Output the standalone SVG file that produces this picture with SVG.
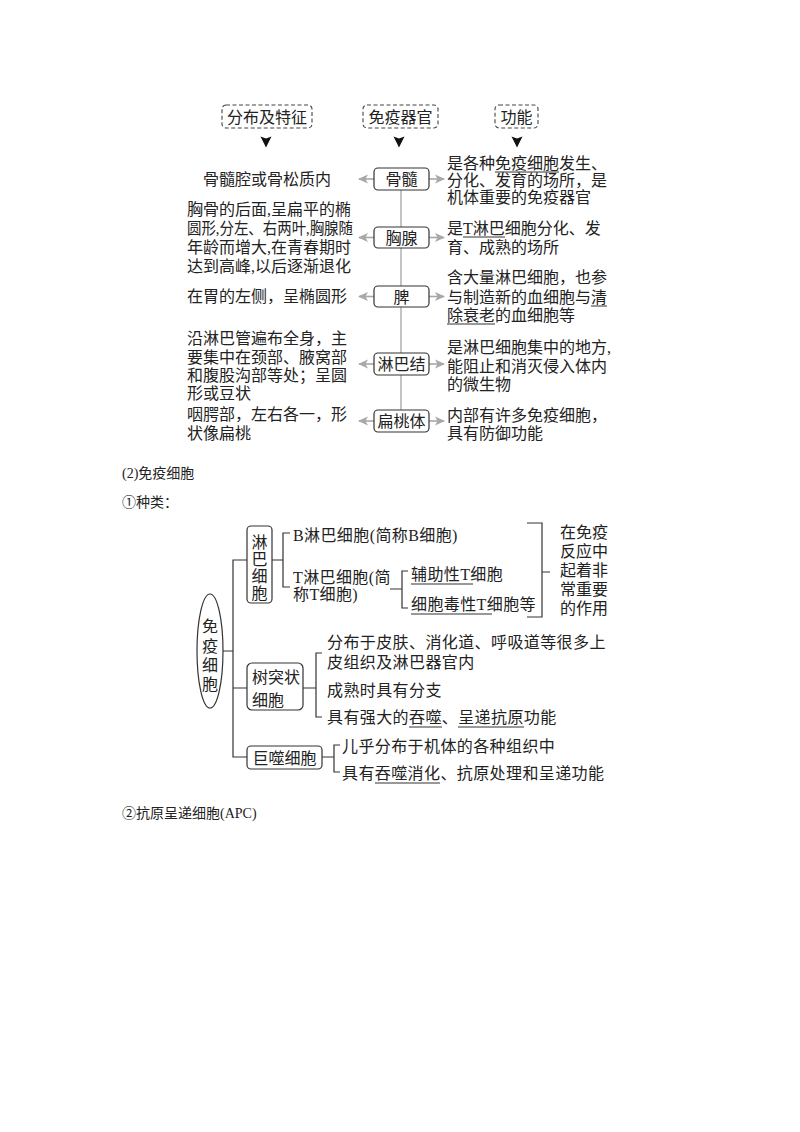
<svg xmlns="http://www.w3.org/2000/svg" width="800" height="1132" viewBox="0 0 800 1132">
<defs>
<marker id="ga" viewBox="0 0 10 10" refX="9" refY="5" markerWidth="10" markerHeight="10" markerUnits="userSpaceOnUse" orient="auto">
<path d="M10,5 L0,0.5 L2.5,5 L0,9.5 Z" fill="#a8a8a8"/>
</marker>
<style>
text{font-family:"Liberation Serif","Noto Sans CJK SC",serif;font-size:16px;fill:#222;}
.c{text-anchor:middle;}
.s{font-size:14px;}
.b{letter-spacing:0.4px;}
.box{fill:#fff;stroke:#333;stroke-width:1.2;}
.dash{fill:#fff;stroke:#444;stroke-width:1.1;stroke-dasharray:4 2.5;}
.ga{stroke:#a8a8a8;stroke-width:1.6;fill:none;marker-end:url(#ga);}
.vl{stroke:#c4c4c4;stroke-width:2;fill:none;}
.ln{stroke:#333;stroke-width:1.2;fill:none;}
.ul{stroke:#333;stroke-width:1;fill:none;}
.tri{fill:#111;}
</style>
</defs>
<rect width="800" height="1132" fill="#fff"/>

<g id="connectors">
<path class="tri" d="M260.5,136.5 L266,147.5 L271.5,136.5 L266,138.5 Z"/>
<path class="tri" d="M393.5,136.5 L399,147.5 L404.5,136.5 L399,138.5 Z"/>
<path class="tri" d="M511.5,136.5 L517,147.5 L522.5,136.5 L517,138.5 Z"/>
<path class="vl" d="M401,190 V227 M401,248 V286 M401,307 V353 M401,375 V410"/>
<path class="ga" d="M374,179 H359"/>
<path class="ga" d="M429,179 H444"/>
<path class="ga" d="M374,237.5 H359"/>
<path class="ga" d="M429,237.5 H444"/>
<path class="ga" d="M374,296.5 H359"/>
<path class="ga" d="M429,296.5 H444"/>
<path class="ga" d="M374,364 H359"/>
<path class="ga" d="M429,364 H444"/>
<path class="ga" d="M374,421 H359"/>
<path class="ga" d="M429,421 H444"/>
<path class="ln" d="M223,651 H233 M247,560 H233 V757 H247 M233,688 H247"/>
<path class="ln" d="M272,560 H283 M290,533 H283 V587 H290"/>
<path class="ln" d="M390,589 H402 M408,571 H402 V608 H408"/>
<path class="ln" d="M527,523 H542 V617 H527 M542,572 H550"/>
<path class="ln" d="M303,688 H316 M322,653 H316 V717 H322"/>
<path class="ln" d="M322,757 H334 M340,745 H334 V772 H340"/>
</g>

<g id="h-dist"><rect class="dash" x="222" y="105" width="90" height="23" rx="4"/><text class="c" x="267" y="123">分布及特征</text></g>
<g id="h-organ"><rect class="dash" x="363" y="105" width="75" height="23" rx="4"/><text class="c" x="400.5" y="123">免疫器官</text></g>
<g id="h-func"><rect class="dash" x="495" y="105" width="43" height="23" rx="4"/><text class="c" x="516.5" y="123">功能</text></g>

<g id="n-gusui"><rect class="box" x="374" y="168" width="55" height="22" rx="4"/><text class="c" x="401.5" y="185">骨髓</text></g>
<g id="n-xiongxian"><rect class="box" x="374" y="227" width="55" height="21" rx="4"/><text class="c" x="401.5" y="243.5">胸腺</text></g>
<g id="n-pi"><rect class="box" x="374" y="286" width="55" height="21" rx="4"/><text class="c" x="401.5" y="302.5">脾</text></g>
<g id="n-linbajie"><rect class="box" x="374" y="353" width="55" height="22" rx="4"/><text class="c" x="401.5" y="370">淋巴结</text></g>
<g id="n-biantaoti"><rect class="box" x="374" y="410" width="55" height="22" rx="4"/><text class="c" x="401.5" y="427">扁桃体</text></g>

<g id="left-texts">
<text x="203" y="185">骨髓腔或骨松质内</text>
<text x="187" y="215">胸骨的后面,呈扁平的椭</text>
<text x="187" y="234" textLength="166" lengthAdjust="spacingAndGlyphs">圆形,分左、右两叶,胸腺随</text>
<text x="187" y="253">年龄而增大,在青春期时</text>
<text x="187" y="272">达到高峰,以后逐渐退化</text>
<text x="187" y="302">在胃的左侧，呈椭圆形</text>
<text x="187" y="344">沿淋巴管遍布全身，主</text>
<text x="187" y="363">要集中在颈部、腋窝部</text>
<text x="187" y="381">和腹股沟部等处；呈圆</text>
<text x="187" y="399">形或豆状</text>
<text x="187" y="420">咽腭部，左右各一，形</text>
<text x="187" y="439">状像扁桃</text>
</g>

<g id="right-texts">
<text x="447" y="169">是各种免疫细胞发生、</text>
<path class="ul" d="M495,172 H559"/>
<text x="447" y="186">分化、发育的场所，是</text>
<text x="447" y="203">机体重要的免疫器官</text>
<text x="447" y="234">是T淋巴细胞分化、发</text>
<path class="ul" d="M463,237 H505"/>
<text x="447" y="253">育、成熟的场所</text>
<text x="447" y="283">含大量淋巴细胞，也参</text>
<text x="447" y="303">与制造新的血细胞与清</text>
<path class="ul" d="M591,306 H607"/>
<text x="447" y="321">除衰老的血细胞等</text>
<path class="ul" d="M447,324 H495"/>
<text x="447" y="353">是淋巴细胞集中的地方,</text>
<text x="447" y="372">能阻止和消灭侵入体内</text>
<text x="447" y="390">的微生物</text>
<text x="447" y="421">内部有许多免疫细胞，</text>
<text x="447" y="439">具有防御功能</text>
</g>

<g id="section-texts">
<text class="s" x="122" y="478">(2)免疫细胞</text>
<text class="s" x="122" y="507">①种类：</text>
<text class="s" x="122" y="818">②抗原呈递细胞(APC)</text>
</g>

<g id="n-mianyixibao">
<ellipse cx="210" cy="651" rx="13" ry="57" class="box"/>
<text class="c" x="210" y="632">免</text>
<text class="c" x="210" y="652">疫</text>
<text class="c" x="210" y="671">细</text>
<text class="c" x="210" y="690">胞</text>
</g>

<g id="n-linbaxibao">
<rect class="box" x="247" y="526" width="25" height="77" rx="4"/>
<text class="c" x="259.5" y="548">淋</text>
<text class="c" x="259.5" y="565">巴</text>
<text class="c" x="259.5" y="582">细</text>
<text class="c" x="259.5" y="599">胞</text>
</g>

<g id="n-bcell"><text class="b" x="293" y="541">B淋巴细胞(简称B细胞)</text></g>
<g id="n-tcell"><text class="b" x="293" y="583">T淋巴细胞(简</text><text class="b" x="293" y="600">称T细胞)</text></g>
<g id="n-helper"><text class="b" x="411" y="580">辅助性T细胞</text><path class="ul" d="M411,584 H473"/></g>
<g id="n-cytotoxic"><text class="b" x="411" y="610">细胞毒性T细胞等</text><path class="ul" d="M411,614 H492"/></g>
<g id="n-role">
<text x="560" y="538">在免疫</text>
<text x="560" y="557">反应中</text>
<text x="560" y="576">起着非</text>
<text x="560" y="595">常重要</text>
<text x="560" y="614">的作用</text>
</g>

<g id="n-dendritic">
<rect class="box" x="247" y="663" width="56" height="47" rx="5"/>
<text x="252" y="683">树突状</text>
<text x="252" y="706">细胞</text>
</g>
<g id="n-dendritic-desc">
<text class="b" x="327" y="648">分布于皮肤、消化道、呼吸道等很多上</text>
<text class="b" x="327" y="668">皮组织及淋巴器官内</text>
<text class="b" x="327" y="696">成熟时具有分支</text>
<text class="b" x="327" y="723">具有强大的吞噬、呈递抗原功能</text>
<path class="ul" d="M409,727 H442 M458,727 H524"/>
</g>

<g id="n-macrophage">
<rect class="box" x="247" y="746" width="75" height="23" rx="4"/>
<text class="c" x="284.5" y="763.5">巨噬细胞</text>
</g>
<g id="n-macrophage-desc">
<text class="b" x="342" y="752">儿乎分布于机体的各种组织中</text>
<text class="b" x="342" y="779">具有吞噬消化、抗原处理和呈递功能</text>
<path class="ul" d="M375,783 H440"/>
</g>
</svg>
